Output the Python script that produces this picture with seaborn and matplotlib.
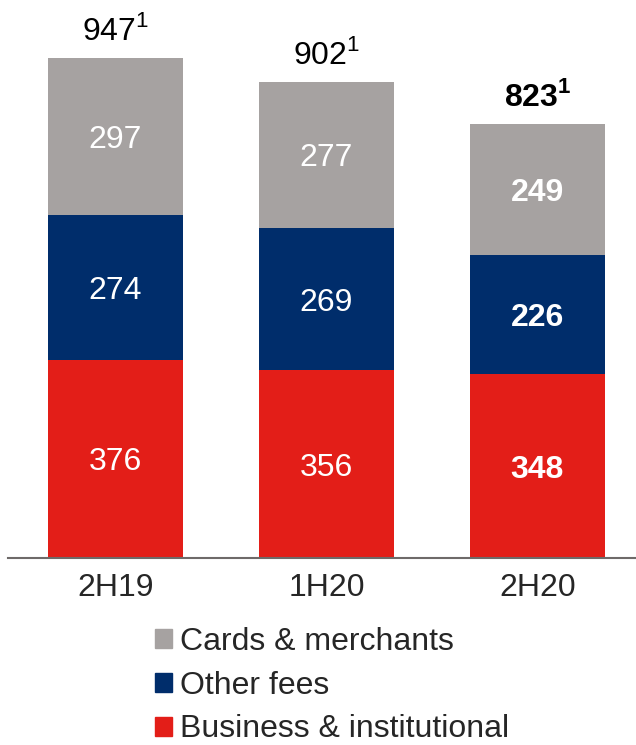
import numpy as np
import pandas as pd
import matplotlib
matplotlib.use("Agg")
import matplotlib.pyplot as plt
import matplotlib.patches as mpatches
import seaborn as sns

periods = ["2H19", "1H20", "2H20"]
business = [376, 356, 348]
other_fees = [274, 269, 226]
cards = [297, 277, 249]
totals = [947, 902, 823]

red = "#E31E18"
navy = "#002D6B"
gray = "#A6A2A1"

sns.set_style("white")
plt.rcParams['font.family'] = ['Liberation Sans', 'DejaVu Sans']
plt.rcParams['mathtext.fontset'] = 'custom'
plt.rcParams['mathtext.rm'] = 'Liberation Sans'
plt.rcParams['mathtext.bf'] = 'Liberation Sans:bold'

fig = plt.figure(figsize=(6.36, 7.45), dpi=100)
ax = fig.add_axes([8 / 636, 1 - 558 / 745, 1 - 8 / 636, 558 / 745])

df = pd.DataFrame({'period': periods, 'business': business,
                   'other': other_fees, 'cards': cards})
df['lvl2'] = df['business'] + df['other']
df['lvl3'] = df['lvl2'] + df['cards']

# overlap cumulative bars back to front
sns.barplot(data=df, x='period', y='lvl3', color=gray, saturation=1, width=0.64,
            linewidth=0, errorbar=None, ax=ax)
sns.barplot(data=df, x='period', y='lvl2', color=navy, saturation=1, width=0.64,
            linewidth=0, errorbar=None, ax=ax)
sns.barplot(data=df, x='period', y='business', color=red, saturation=1, width=0.64,
            linewidth=0, errorbar=None, ax=ax)

fs = 23
for i in range(len(periods)):
    w = 'bold' if i == 2 else 'normal'
    segs = [(0, business[i]), (business[i], df['lvl2'][i]), (df['lvl2'][i], df['lvl3'][i])]
    vals = [business[i], other_fees[i], cards[i]]
    for (lo, hi), v in zip(segs, vals):
        ax.text(i, (lo + hi) / 2, str(v), ha='center', va='center_baseline', color='white',
                fontsize=fs, fontweight=w)
    sup = r"$^{\mathbf{1}}$" if i == 2 else r"$^{\mathrm{1}}$"
    ax.text(i, totals[i] + 34, f"{totals[i]}{sup}", ha='center', va='baseline',
            color='black', fontsize=fs, fontweight=w)

ax.set_xlim(-0.509, 2.467)
ax.set_ylim(0, 1057)
ax.set_xlabel('')
ax.set_ylabel('')
ax.set_yticks([])
ax.tick_params(axis='x', length=0, pad=11, labelsize=fs)
for s in ['top', 'left', 'right']:
    ax.spines[s].set_visible(False)
ax.spines['bottom'].set_color('#6E6A69')
ax.spines['bottom'].set_linewidth(1.5)

handles = [mpatches.Patch(color=gray, label='Cards & merchants'),
           mpatches.Patch(color=navy, label='Other fees'),
           mpatches.Patch(color=red, label='Business & institutional')]
fig.legend(handles=handles, loc='upper left', bbox_to_anchor=(155 / 636, 1 - 627 / 745),
           frameon=False, fontsize=fs, handlelength=0.53, handleheight=0.53,
           handletextpad=0.25, labelspacing=0.43, borderaxespad=0, borderpad=0)

fig.savefig('out.png', dpi=100)
